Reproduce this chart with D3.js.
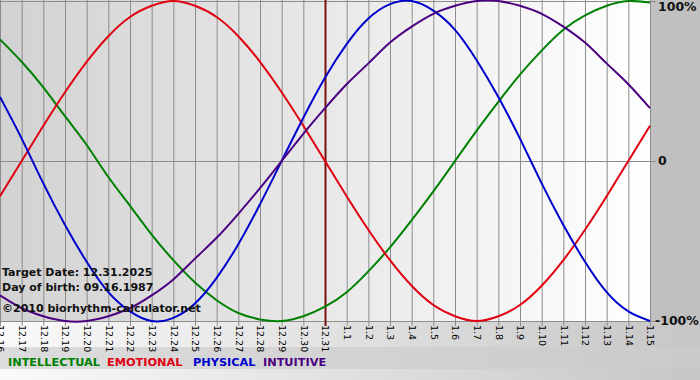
<!DOCTYPE html>
<html lang="en">
<head>
<meta charset="UTF-8">
<title>Biorhythm</title>
<script src="https://d3js.org/d3.v7.js"></script>
<style>
  body { margin: 0; background: #fff; }
  svg { display: block; font-family: "DejaVu Sans", Verdana, sans-serif; }
</style>
</head>
<body>
<svg id="chart" width="700" height="380"></svg>
<script>
// days shown on the x axis
var dates = ["12.16","12.17","12.18","12.19","12.20","12.21","12.22","12.23","12.24","12.25",
  "12.26","12.27","12.28","12.29","12.30","12.31","1.1","1.2","1.3","1.4","1.5","1.6","1.7",
  "1.8","1.9","1.10","1.11","1.12","1.13","1.14","1.15"];

// values, one per day, -1 .. 1
var intellectual = [0.76,0.62,0.46,0.28,0.10,-0.10,-0.28,-0.46,-0.62,-0.76,-0.87,-0.95,-0.99,-1.00,
  -0.97,-0.91,-0.82,-0.69,-0.54,-0.37,-0.19,0,0.19,0.37,0.54,0.69,0.82,0.91,0.97,1.00,0.99];
var emotional = [-0.22,0,0.22,0.43,0.62,0.78,0.90,0.97,1.00,0.97,0.90,0.78,0.62,0.43,0.22,0,
  -0.22,-0.43,-0.62,-0.78,-0.90,-0.97,-1.00,-0.97,-0.90,-0.78,-0.62,-0.43,-0.22,0,0.22];
var physical = [0.40,0.14,-0.14,-0.40,-0.63,-0.82,-0.94,-1.00,-0.98,-0.89,-0.73,-0.52,-0.27,0,
  0.27,0.52,0.73,0.89,0.98,1.00,0.94,0.82,0.63,0.40,0.14,-0.14,-0.40,-0.63,-0.82,-0.94,-1.00];
var intuitive = [-0.84,-0.92,-0.97,-1.00,-1.00,-0.97,-0.92,-0.84,-0.74,-0.61,-0.48,-0.33,-0.17,0,
  0.17,0.33,0.48,0.61,0.74,0.84,0.92,0.97,1.00,1.00,0.97,0.92,0.84,0.74,0.61,0.48,0.33];

var targetDate = "12.31";
var yTicks = [1, 0, -1];
var yTickLabels = ["100%", "0", "-100%"];

var series = [
  { name: "INTELLECTUAL", values: intellectual, color: "#008000" },
  { name: "EMOTIONAL", values: emotional, color: "#e00010" },
  { name: "PHYSICAL", values: physical, color: "#0000cc" },
  { name: "INTUITIVE", values: intuitive, color: "#4b0082" }
];

var svg = d3.select("#chart");
var plotW = 651, plotH = 321;

var x = d3.scalePoint().domain(dates).range([0, 650]);
var y = d3.scaleLinear().domain([-1, 1]).range([321, 1]);

// backgrounds
var defs = svg.append("defs");
var g1 = defs.append("linearGradient").attr("id", "plotBg");
g1.append("stop").attr("offset", "0%").attr("stop-color", "#d2d2d2");
g1.append("stop").attr("offset", "100%").attr("stop-color", "#ffffff");
var g2 = defs.append("linearGradient").attr("id", "bottomBg");
g2.append("stop").attr("offset", "0%").attr("stop-color", "#fafafa");
g2.append("stop").attr("offset", "100%").attr("stop-color", "#c6c6c6");
var g3 = defs.append("linearGradient").attr("id", "legendBg");
g3.append("stop").attr("offset", "0%").attr("stop-color", "#dcdcdc");
g3.append("stop").attr("offset", "100%").attr("stop-color", "#cacaca");

svg.append("rect").attr("x", 0).attr("y", 0).attr("width", 700).attr("height", 380).attr("fill", "url(#bottomBg)");
svg.append("rect").attr("x", 0).attr("y", 347).attr("width", 700).attr("height", 22).attr("fill", "url(#legendBg)");
svg.append("rect").attr("x", plotW).attr("y", 0).attr("width", 700 - plotW).attr("height", plotH + 1).attr("fill", "#c0c0c0");
svg.append("rect").attr("x", 0).attr("y", 0).attr("width", plotW).attr("height", plotH).attr("fill", "url(#plotBg)");

// vertical day grid, running a bit below the plot as ticks
svg.append("g").selectAll("line")
  .data(dates)
  .join("line")
  .attr("x1", d => x(d) + 0.5).attr("x2", d => x(d) + 0.5)
  .attr("y1", 0).attr("y2", plotH + 5)
  .attr("stroke", "#8c8c8c").attr("stroke-width", 1);

// horizontal lines at 100%, 0, -100%
svg.append("g").selectAll("line")
  .data(yTicks)
  .join("line")
  .attr("x1", 0).attr("x2", plotW + 5)
  .attr("y1", d => Math.round(y(d)) + 0.5).attr("y2", d => Math.round(y(d)) + 0.5)
  .attr("stroke", "#8c8c8c").attr("stroke-width", 1);

// target date marker
svg.append("line")
  .attr("x1", x(targetDate) + 0.5).attr("x2", x(targetDate) + 0.5)
  .attr("y1", 0).attr("y2", plotH + 5)
  .attr("stroke", "#7a1010").attr("stroke-width", 2);

// date labels via axis, turned downwards
var xAxis = svg.append("g")
  .attr("transform", "translate(0," + (plotH + 1) + ")")
  .call(d3.axisBottom(x).tickSize(0));
xAxis.select(".domain").remove();
xAxis.selectAll("text")
  .attr("transform", "rotate(90)")
  .attr("x", 3).attr("y", 0).attr("dy", "0.32em")
  .attr("text-anchor", "start")
  .attr("fill", "#000")
  .style("font-size", "9.5px")
  .style("font-family", "DejaVu Sans, Verdana, sans-serif");

// right side labels
svg.append("g").selectAll("text")
  .data(yTicks)
  .join("text")
  .attr("x", (d, i) => i === 2 ? 655 : 658)
  .attr("y", (d, i) => i === 0 ? y(d) + 6 : y(d))
  .attr("dy", "0.35em")
  .attr("font-size", "12.5px").attr("font-weight", "bold")
  .attr("fill", "#111")
  .text((d, i) => yTickLabels[i]);

// curves
var line = d3.line()
  .x((d, i) => x(dates[i]))
  .y(d => y(d))
  .curve(d3.curveNatural);

svg.append("g").selectAll("path")
  .data(series)
  .join("path")
  .attr("d", d => line(d.values))
  .attr("fill", "none")
  .attr("stroke", d => d.color)
  .attr("stroke-width", 2);

// info text
var info = ["Target Date: 12.31.2025", "Day of birth: 09.16.1987", "\u00a92010 biorhythm-calculator.net"];
svg.append("g").selectAll("text")
  .data(info)
  .join("text")
  .attr("x", 2)
  .attr("y", (d, i) => [276, 291, 312][i])
  .attr("font-size", "11px").attr("font-weight", "bold")
  .attr("fill", "#111")
  .text(d => d);

// legend
var legendX = [8, 107, 193, 263];
svg.append("g").selectAll("text")
  .data(series)
  .join("text")
  .attr("x", (d, i) => legendX[i])
  .attr("y", 366)
  .attr("font-size", "11.3px").attr("font-weight", "bold")
  .attr("fill", d => d.color)
  .text(d => d.name);
</script>
</body>
</html>
